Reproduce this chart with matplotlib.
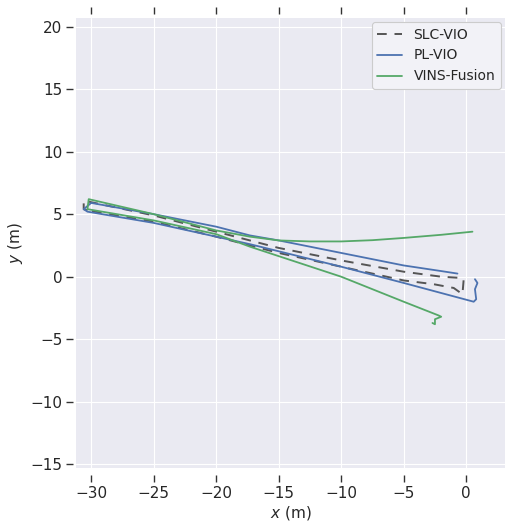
import matplotlib
matplotlib.use("Agg")
import matplotlib.pyplot as plt
import seaborn as sns

sns.set_style("darkgrid")
plt.rcParams['font.family'] = ['DejaVu Sans']

# SLC-VIO trajectory (gray dashed)
slc_x = [-30.3, -30.6, -30.6, -30.2, -25.0, -20.0, -15.0, -10.0, -5.0, -2.0, -0.4, -0.2,
         -0.3, -1.0, -2.6, -5.0, -10.0, -15.0, -20.0, -25.0, -30.3]
slc_y = [5.3, 5.4, 6.1, 6.0, 4.9, 3.6, 2.3, 1.3, 0.4, 0.0, -0.1, -0.2,
         -1.4, -0.9, -0.6, -0.3, 0.8, 1.9, 3.2, 4.4, 5.3]

# PL-VIO trajectory (blue)
pl_x = [-0.7, -2.0, -5.0, -10.0, -15.0, -17.3, -20.0, -25.0, -30.0, -30.6, -30.3,
        -25.0, -20.0, -17.3, -10.0, -5.0, 0.6, 0.8, 0.7, 0.9, 0.7]
pl_y = [0.25, 0.45, 0.9, 1.9, 2.9, 3.3, 4.0, 5.0, 5.9, 5.4, 5.2,
        4.3, 3.2, 2.6, 0.8, -0.5, -2.0, -1.8, -1.0, -0.5, -0.2]

# VINS-Fusion trajectory (green)
vins_x = [0.5, -2.0, -5.0, -7.5, -10.0, -12.5, -15.0, -17.3, -20.0, -25.0, -30.2, -30.3,
          -25.0, -20.0, -17.3, -10.0, -5.0, -2.2, -2.0, -2.5, -2.5, -2.7]
vins_y = [3.6, 3.35, 3.1, 2.92, 2.82, 2.82, 2.9, 3.2, 3.7, 5.0, 6.2, 5.4,
          4.5, 3.4, 2.4, 0.0, -2.0, -3.1, -3.2, -3.4, -3.8, -3.7]

x_ticks = [-30, -25, -20, -15, -10, -5, 0]
y_ticks = [-15, -10, -5, 0, 5, 10, 15, 20]

fig = plt.figure(figsize=(5.08, 5.23), dpi=100)
ax = fig.add_axes([0.15, 0.105, 0.844, 0.861])

ax.plot(slc_x, slc_y, color="#555555", linestyle=(0, (5, 4)), lw=1.4, label="SLC-VIO")
ax.plot(pl_x, pl_y, color="#4C72B0", lw=1.3, label="PL-VIO")
ax.plot(vins_x, vins_y, color="#55A868", lw=1.3, label="VINS-Fusion")

ax.set_xlim(-31.2, 3.1)
ax.set_ylim(-15.3, 20.7)
ax.set_xticks(x_ticks)
ax.set_yticks(y_ticks)

for s in ax.spines.values():
    s.set_visible(False)
ax.spines['bottom'].set_position(('outward', 5))
ax.spines['top'].set_position(('outward', 3))
ax.spines['left'].set_position(('outward', 2))

ax.tick_params(axis='x', which='both', bottom=True, top=True, labelbottom=True, labeltop=False,
               length=5, width=1.0, color='#333333', direction='out', labelsize=11, pad=3,
               labelcolor='#262626')
ax.tick_params(axis='y', which='both', left=True, length=5, width=1.0, color='#333333',
               direction='out', labelsize=11, pad=3, labelcolor='#262626')

ax.set_xlabel("$x$ (m)", fontsize=11, labelpad=2, color='#262626')
ax.set_ylabel("$y$ (m)", fontsize=11, labelpad=4, color='#262626')

leg = ax.legend(loc="upper right", fontsize=10, frameon=True, facecolor="#F2F2F7",
                edgecolor="#CCCCCC", framealpha=1.0, handlelength=1.8, borderaxespad=0.3)
leg.get_frame().set_linewidth(0.8)

fig.savefig("out.png", dpi=100)
